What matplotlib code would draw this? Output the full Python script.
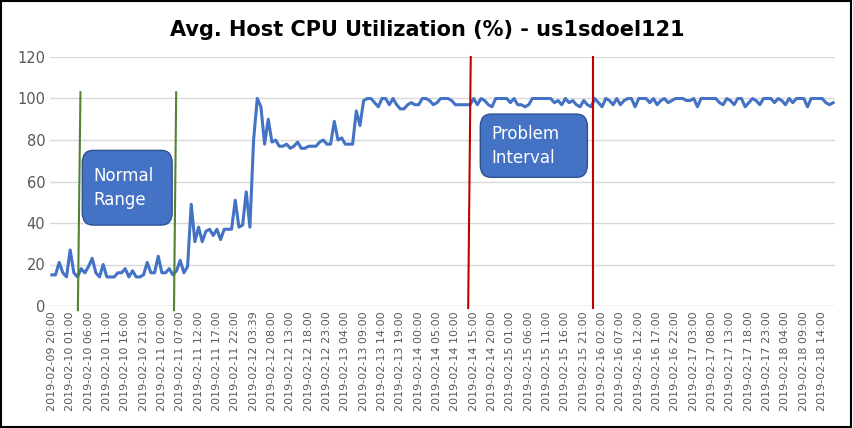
import matplotlib
matplotlib.use("Agg")
import matplotlib.pyplot as plt
from matplotlib.patches import FancyBboxPatch

title = "Avg. Host CPU Utilization (%) - us1sdoel121"
tick_labels = ["2019-02-09 20:00","2019-02-10 01:00","2019-02-10 06:00","2019-02-10 11:00","2019-02-10 16:00",
"2019-02-10 21:00","2019-02-11 02:00","2019-02-11 07:00","2019-02-11 12:00","2019-02-11 17:00","2019-02-11 22:00",
"2019-02-12 03:39","2019-02-12 08:00","2019-02-12 13:00","2019-02-12 18:00","2019-02-12 23:00","2019-02-13 04:00",
"2019-02-13 09:00","2019-02-13 14:00","2019-02-13 19:00","2019-02-14 00:00","2019-02-14 05:00","2019-02-14 10:00",
"2019-02-14 15:00","2019-02-14 20:00","2019-02-15 01:00","2019-02-15 06:00","2019-02-15 11:00","2019-02-15 16:00",
"2019-02-15 21:00","2019-02-16 02:00","2019-02-16 07:00","2019-02-16 12:00","2019-02-16 17:00","2019-02-16 22:00",
"2019-02-17 03:00","2019-02-17 08:00","2019-02-17 13:00","2019-02-17 18:00","2019-02-17 23:00","2019-02-18 04:00",
"2019-02-18 09:00","2019-02-18 14:00"]
cpu = [15,15,21,16,14,27,16,14,18,16,19,23,16,14,20,14,14,14,16,16,18,14,17,14,14,15,21,16,16,24,
       16,16,18,15,17,22,16,19,49,31,38,31,36,37,34,37,32,37,37,37,51,38,39,55,38,80,100,96,78,90,
       79,80,77,77,78,76,77,79,76,76,77,77,77,79,80,78,78,89,80,81,78,78,78,94,87,99,100,100,98,96,
       100,100,97,100,97,95,95,97,98,97,97,100,100,99,97,98,100,100,100,99,97,97,97,97,97,100,
       97,100,99,97,96,100,100,100,100,98,100,97,97,96,97,100,100,100,100,100,100,98,99,97,100,
       98,99,97,96,99,97,96,100,98,96,100,99,97,100,97,99,100,100,96,100,100,100,98,100,97,
       99,100,98,99,100,100,100,99,99,100,96,100,100,100,100,100,98,97,100,99,97,100,100,96,
       98,100,99,97,100,100,100,98,100,99,97,100,98,100,100,100,96,100,100,100,100,98,97,98]
normal_lines_x = [(7.8, 7.1), (33.9, 33.3)]
normal_lines_y = (103, -2)
problem_lines_x = [(114.2, 113.5), (147.5, 147.5)]
problem_lines_y = (120, -1)

fig = plt.figure(figsize=(8.54, 4.28), dpi=100)
ax = fig.add_axes([50/854, 1-306/428, 785/854, 249/428])
x = list(range(len(cpu)))
ax.plot(x, cpu, color="#4472C4", lw=2.2, zorder=3)
ax.set_ylim(0, 120)
ax.set_xlim(-0.5, len(cpu) - 0.5)
ax.set_yticks(range(0, 121, 20))
ax.set_xticks(range(0, len(cpu), 5))
ax.set_xticklabels(tick_labels[:len(range(0, len(cpu), 5))], rotation=90, fontsize=8, color="#595959")
ax.tick_params(axis="y", labelsize=10.5, colors="#595959", length=0)
ax.tick_params(axis="x", length=0, pad=4)
ax.grid(axis="y", color="#D9D9D9", lw=1)
for s in ax.spines.values():
    s.set_visible(False)
ax.axhline(0, color="#D9D9D9", lw=1)
for xs in normal_lines_x:
    ax.plot(xs, normal_lines_y, color="#548235", lw=1.5, clip_on=False, zorder=4)
for xs in problem_lines_x:
    ax.plot(xs, problem_lines_y, color="#C00000", lw=1.5, clip_on=False, zorder=4)

def box(x0, x1, y0, y1, txt):
    p = FancyBboxPatch((x0, y0), x1 - x0, y1 - y0, boxstyle="round,pad=0,rounding_size=3",
                       mutation_aspect=2.0, fc="#4472C4", ec="#2F528F", lw=1, zorder=5)
    ax.add_patch(p)
    ax.text(x0 + 3.0, (y0 + y1) / 2, txt, color="white", fontsize=12, va="center", ha="left",
            zorder=6, linespacing=1.4)

box(8.3, 32.8, 39, 75, "Normal\nRange")
box(116.8, 146, 62, 92.5, "Problem\nInterval")

fig.text(0.5, 1-30/428, title, ha="center", va="center", fontsize=15, fontweight="bold")
fig.add_artist(plt.Rectangle((0.001, 0.002), 0.996, 0.995, transform=fig.transFigure,
                             fill=False, ec="black", lw=1.5))
fig.savefig("out.png", dpi=100)
